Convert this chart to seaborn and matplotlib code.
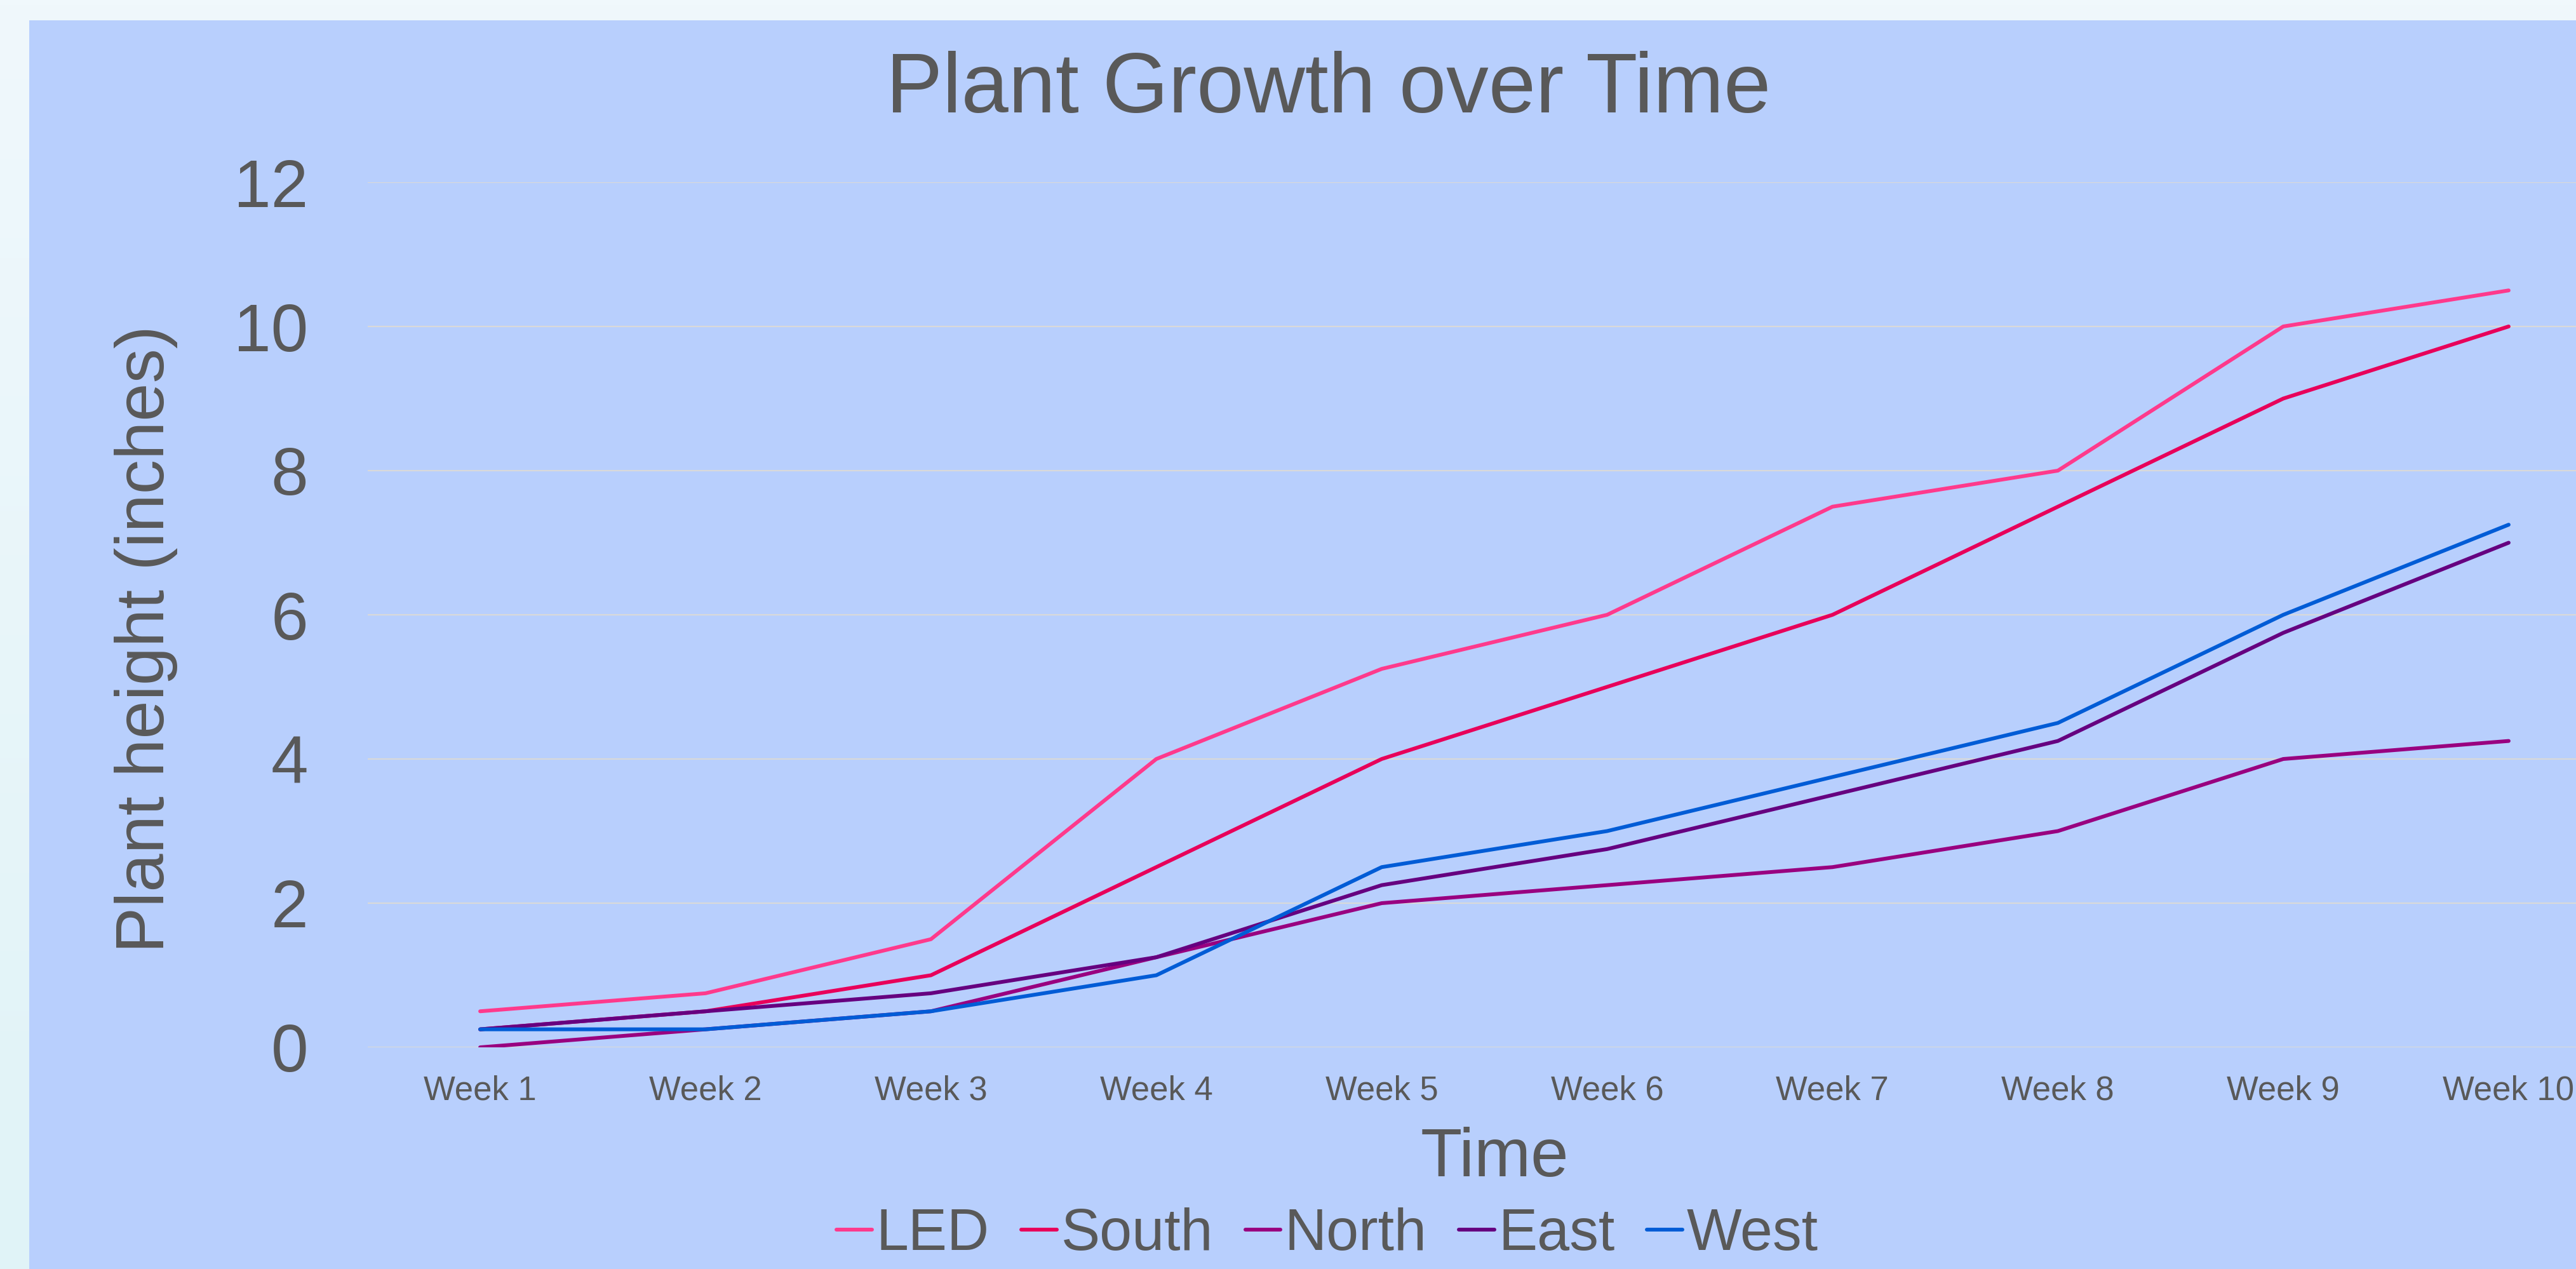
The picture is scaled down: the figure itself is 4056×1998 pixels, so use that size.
import numpy as np
import pandas as pd
import seaborn as sns
import matplotlib.pyplot as plt
from matplotlib.patches import Rectangle

sns.set_theme(style="white")
plt.rcParams["font.family"] = ["Liberation Sans", "DejaVu Sans"]

weeks = ["Week 1", "Week 2", "Week 3", "Week 4", "Week 5",
         "Week 6", "Week 7", "Week 8", "Week 9", "Week 10"]
led = [0.5, 0.75, 1.5, 4.0, 5.25, 6.0, 7.5, 8.0, 10.0, 10.5]
south = [0.25, 0.5, 1.0, 2.5, 4.0, 5.0, 6.0, 7.5, 9.0, 10.0]
north = [0.0, 0.25, 0.5, 1.25, 2.0, 2.25, 2.5, 3.0, 4.0, 4.25]
east = [0.25, 0.5, 0.75, 1.25, 2.25, 2.75, 3.5, 4.25, 5.75, 7.0]
west = [0.25, 0.25, 0.5, 1.0, 2.5, 3.0, 3.75, 4.5, 6.0, 7.25]
series = {"LED": led, "South": south, "North": north, "East": east, "West": west}
colors = ["#FF3A8C", "#E8005A", "#990080", "#660080", "#005CD6"]

df = pd.concat(
    [pd.DataFrame({"week": weeks, "height": v, "series": k}) for k, v in series.items()],
    ignore_index=True,
)

txt = "#595959"
W, H = 4056, 1998
fig = plt.figure(figsize=(W / 100, H / 100), dpi=100)

# page background gradient + chart area
bg = fig.add_axes([0, 0, 1, 1], zorder=-10)
grad = np.linspace(0, 1, 256).reshape(-1, 1)
top_c = np.array([0xF0, 0xF8, 0xFC]) / 255
bot_c = np.array([0xE0, 0xF3, 0xF7]) / 255
img = top_c[None, None, :] * (1 - grad[:, :, None]) + bot_c[None, None, :] * grad[:, :, None]
bg.imshow(img, aspect="auto", extent=[0, 1, 0, 1], origin="upper")
bg.add_patch(Rectangle((46 / W, 0), 1, 1 - 32 / H, color="#B8CFFD", lw=0))
bg.set_xlim(0, 1)
bg.set_ylim(0, 1)
bg.axis("off")

left, right = 578.6, 4127.4
bottom, top = 1649, 287
ax = fig.add_axes([left / W, 1 - bottom / H, (right - left) / W, (bottom - top) / H])
ax.set_facecolor((0, 0, 0, 0))

sns.lineplot(
    data=df, x="week", y="height", hue="series", palette=colors, ax=ax,
    lw=4.3, sort=False, solid_capstyle="round", solid_joinstyle="round", legend=False,
)

ax.set_xlim(-0.5, 9.5)
ax.set_ylim(0, 12)
ax.set_yticks(range(0, 13, 2))
ax.yaxis.grid(True, color="#D9D9D9", lw=1.6)
ax.xaxis.grid(False)
ax.set_axisbelow(True)
sns.despine(ax=ax, left=True, bottom=True)
ax.tick_params(axis="y", length=0, pad=67, labelsize=76, labelcolor=txt)
ax.tick_params(axis="x", length=0, pad=31, labelsize=38, labelcolor=txt)

ax.set_xlabel("Time", fontsize=77, color=txt, va="top")
ax.xaxis.set_label_coords(0.5, (bottom - 1774) / (bottom - top))
ax.set_ylabel("Plant height (inches)", fontsize=78, color=txt, va="center")
ax.yaxis.set_label_coords((230 - left) / (right - left), (bottom - 1006) / (bottom - top))

fig.text(2092 / W, 1 - 177 / H, "Plant Growth over Time", ha="center", va="baseline",
         fontsize=96, color=txt)

handles = ax.get_lines()[:5]
leg = fig.legend(
    handles, list(series.keys()), loc="center", bbox_to_anchor=(2090 / W, 1 - 1944 / H),
    ncol=5, frameon=False, fontsize=66, handlelength=0.61, handletextpad=0.07,
    columnspacing=0.55, borderpad=0,
)
for t in leg.get_texts():
    t.set_color(txt)

fig.savefig("out.png", dpi=100)
